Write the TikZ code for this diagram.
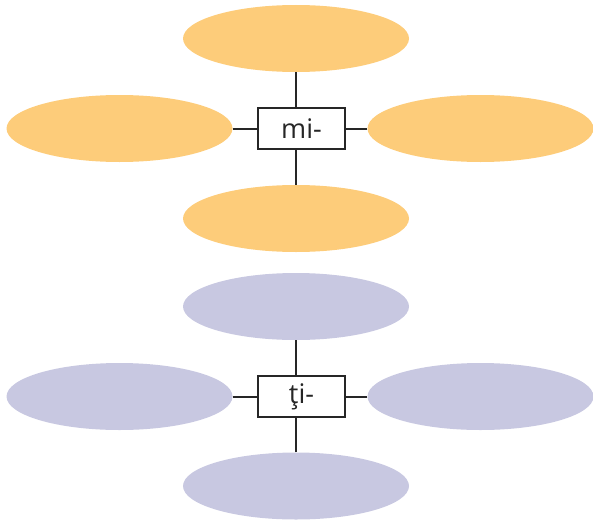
\documentclass[tikz,border=0pt]{standalone}
\usepackage{fontspec}
\setmainfont{Open Sans}
\usetikzlibrary{shapes.geometric}
\definecolor{orangefill}{RGB}{253,204,122}
\definecolor{lavfill}{RGB}{200,200,225}
\tikzset{
  blob/.style={ellipse, draw=none, minimum width=226pt, minimum height=67pt, inner sep=0pt},
  obl/.style={blob, fill=orangefill},
  lbl/.style={blob, fill=lavfill},
  prefixbox/.style={draw=black!85, line width=2.7pt, fill=white, minimum width=87pt, minimum height=41pt, inner sep=0pt, font=\fontsize{27}{32}\selectfont, text=black!85},
  link/.style={draw=black!85, line width=2pt}
}
\begin{document}
\begin{tikzpicture}[x=1pt,y=-1pt]
\useasboundingbox (0,0) rectangle (593,519);
% upper group
\node[obl] (t1) at (296,38.5) {};
\node[obl] (l1) at (119.5,128.5) {};
\node[obl] (r1) at (480.5,128.5) {};
\node[obl] (b1) at (296,218.5) {};
\node[prefixbox] (m) at (301.5,128.5) {mi-};
\draw[link] (t1.south) -- (t1.south |- m.north);
\draw[link] (b1.north) -- (b1.north |- m.south);
\draw[link] (l1.east) -- (m.west);
\draw[link] (r1.west) -- (m.east);
% lower group
\node[lbl] (t2) at (296,306.5) {};
\node[lbl] (l2) at (119.5,396.5) {};
\node[lbl] (r2) at (480.5,396.5) {};
\node[lbl] (b2) at (296,486) {};
\node[prefixbox] (t) at (301.5,396.5) {ţi-};
\draw[link] (t2.south) -- (t2.south |- t.north);
\draw[link] (b2.north) -- (b2.north |- t.south);
\draw[link] (l2.east) -- (t.west);
\draw[link] (r2.west) -- (t.east);
\end{tikzpicture}
\end{document}
